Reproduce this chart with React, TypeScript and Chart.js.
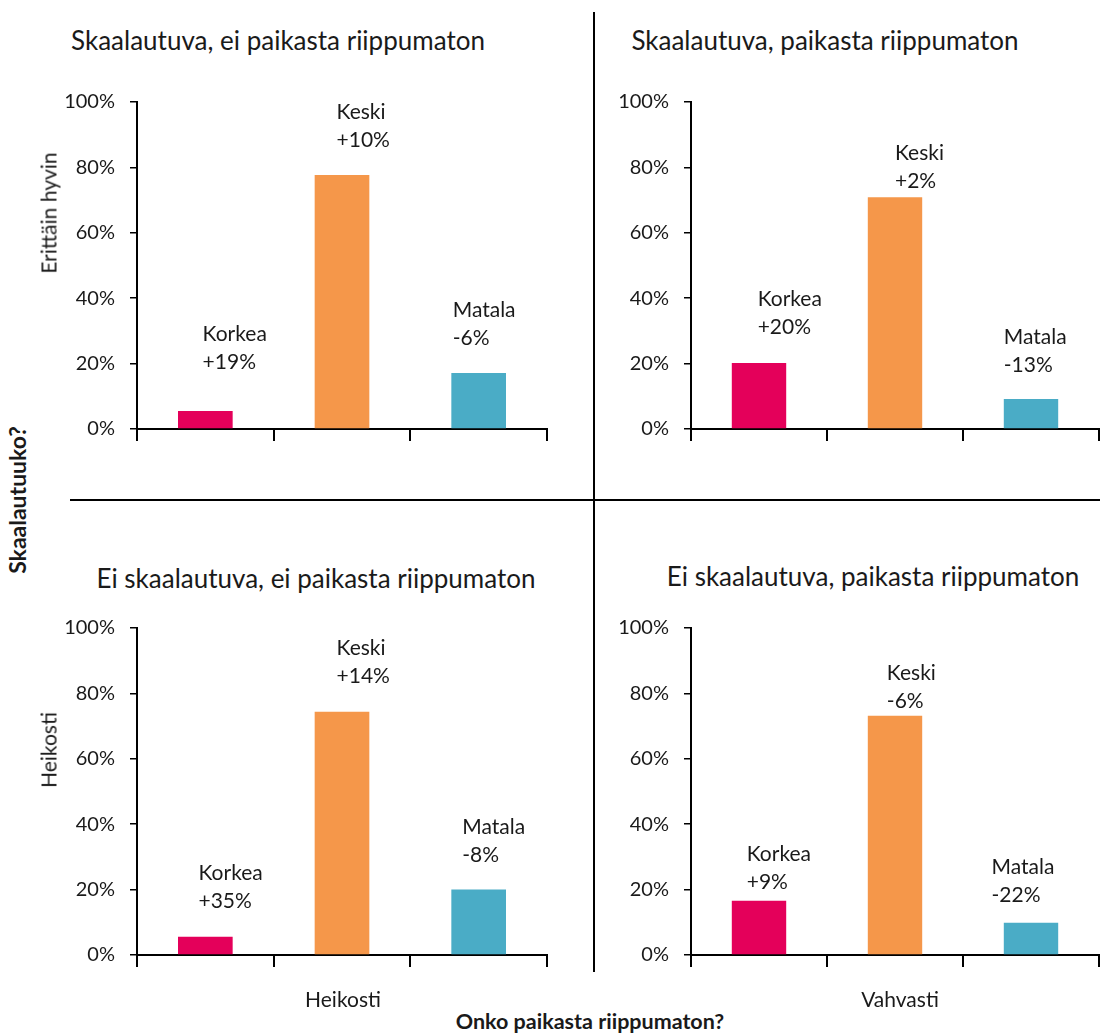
import React, { useEffect, useRef } from 'react';
import { Chart, registerables } from 'chart.js';

Chart.register(...registerables);

// ---------- data ----------
const categories = ['Korkea', 'Keski', 'Matala'];
const barColors = ['#E4005A', '#F5974A', '#4AACC6'];
const yTickValues = [0, 20, 40, 60, 80, 100];

const panelTitles = [
  'Skaalautuva, ei paikasta riippumaton',
  'Skaalautuva, paikasta riippumaton',
  'Ei skaalautuva, ei paikasta riippumaton',
  'Ei skaalautuva, paikasta riippumaton',
];

const topLeftValues = [5.5, 77.7, 17.1];
const topRightValues = [20.2, 70.9, 9.2];
const bottomLeftValues = [5.6, 74.4, 20.0];
const bottomRightValues = [16.6, 73.2, 9.9];

const topLeftChanges = ['+19%', '+10%', '-6%'];
const topRightChanges = ['+20%', '+2%', '-13%'];
const bottomLeftChanges = ['+35%', '+14%', '-8%'];
const bottomRightChanges = ['+9%', '-6%', '-22%'];

const rowTitles = ['Erittäin hyvin', 'Heikosti'];
const colTitles = ['Heikosti', 'Vahvasti'];
const yAxisTitle = 'Skaalautuuko?';
const xAxisTitle = 'Onko paikasta riippumaton?';

// ---------- annotation anchors (layout: category offset, value level of first line) ----------
const topLeftNoteDx = [-0.02, -0.04, -0.19];
const topLeftNoteY = [29.1, 96.9, 36.4];
const topRightNoteDx = [-0.01, 0, -0.2];
const topRightNoteY = [39.8, 84.4, 28.1];
const bottomLeftNoteDx = [-0.05, -0.04, -0.12];
const bottomLeftNoteY = [24.9, 93.9, 39.1];
const bottomRightNoteDx = [-0.09, -0.06, -0.29];
const bottomRightNoteY = [30.7, 86.2, 26.9];

// ---------- layout ----------
const FONT = 'Lato, "Open Sans", sans-serif';
const TEXT = '#1a1a1a';
const Y_AXIS_W = 90;
const PAD_TOP = 32;
const X_AXIS_H = 14;
const PAD_BOTTOM = 18;

type PanelProps = {
  axisX: number;
  rightX: number;
  topY: number;
  bottomY: number;
  values: number[];
  changes: string[];
  noteDx: number[];
  noteY: number[];
};

function Panel({ axisX, rightX, topY, bottomY, values, changes, noteDx, noteY }: PanelProps) {
  const ref = useRef<HTMLCanvasElement>(null);
  const left = axisX - Y_AXIS_W;
  const top = topY - PAD_TOP;
  const width = Math.round(rightX - left + 3);
  const height = Math.round(bottomY - top + X_AXIS_H + PAD_BOTTOM);

  useEffect(() => {
    const notePlugin = {
      id: 'barNotes',
      afterDatasetsDraw(chart: any) {
        const { ctx } = chart;
        const xs = chart.scales.x;
        const ys = chart.scales.y;
        ctx.save();
        ctx.font = `21px ${FONT}`;
        ctx.fillStyle = TEXT;
        ctx.textAlign = 'left';
        ctx.textBaseline = 'middle';
        categories.forEach((cat, i) => {
          const x = xs.getPixelForValue(i + noteDx[i]);
          const y = ys.getPixelForValue(noteY[i]);
          ctx.fillText(cat, x, y);
          ctx.fillText(changes[i], x, y + 28);
        });
        ctx.restore();
      },
    };

    const chart = new Chart(ref.current as HTMLCanvasElement, {
      type: 'bar',
      data: {
        labels: categories,
        datasets: [
          {
            data: values,
            backgroundColor: barColors,
            borderWidth: 0,
            categoryPercentage: 1,
            barPercentage: 0.4,
          },
        ],
      },
      options: {
        animation: false,
        responsive: false,
        maintainAspectRatio: false,
        layout: { padding: { top: PAD_TOP, right: 3, bottom: PAD_BOTTOM, left: 0 } },
        plugins: { legend: { display: false }, tooltip: { enabled: false } },
        scales: {
          x: {
            type: 'category',
            offset: true,
            grid: {
              offset: true,
              drawOnChartArea: false,
              drawTicks: true,
              tickLength: 12,
              color: '#000',
              lineWidth: 2,
            },
            border: { display: true, color: '#000', width: 2 },
            ticks: { display: false },
            afterFit: (s: any) => {
              s.height = X_AXIS_H;
            },
          },
          y: {
            min: 0,
            max: 100,
            afterBuildTicks: (s: any) => {
              s.ticks = yTickValues.map((v) => ({ value: v }));
            },
            ticks: {
              callback: (v: any) => `${v}%`,
              font: { family: FONT, size: 20 },
              color: TEXT,
              padding: 15,
            },
            grid: {
              drawOnChartArea: false,
              drawTicks: true,
              tickLength: 7,
              color: '#000',
              lineWidth: 1.5,
            },
            border: { display: true, color: '#000', width: 2 },
            afterFit: (s: any) => {
              s.width = Y_AXIS_W;
            },
          },
        },
      },
      plugins: [notePlugin],
    } as any);
    return () => chart.destroy();
  }, []);

  return (
    <canvas
      ref={ref}
      width={width}
      height={height}
      style={{ position: 'absolute', left, top, width, height }}
    />
  );
}

function Label({
  text,
  x,
  y,
  size,
  bold,
  rotate,
}: {
  text: string;
  x: number;
  y: number;
  size: number;
  bold?: boolean;
  rotate?: boolean;
}) {
  return (
    <div
      style={{
        position: 'absolute',
        left: x,
        top: y,
        transform: `translate(-50%, -50%)${rotate ? ' rotate(-90deg)' : ''}`,
        whiteSpace: 'nowrap',
        fontFamily: FONT,
        fontSize: size,
        fontWeight: bold ? 700 : 400,
        lineHeight: 1,
        color: TEXT,
      }}
    >
      {text}
    </div>
  );
}

export default function App() {
  return (
    <div
      style={{
        position: 'absolute',
        left: 0,
        top: 0,
        width: 1100,
        height: 1034,
        background: '#fff',
        overflow: 'hidden',
      }}
    >
      {/* dividers */}
      <div style={{ position: 'absolute', left: 593, top: 12, width: 2, height: 960, background: '#000' }} />
      <div style={{ position: 'absolute', left: 70, top: 499, width: 1030, height: 2, background: '#000' }} />

      <Panel
        axisX={137}
        rightX={547}
        topY={101.7}
        bottomY={429}
        values={topLeftValues}
        changes={topLeftChanges}
        noteDx={topLeftNoteDx}
        noteY={topLeftNoteY}
      />
      <Panel
        axisX={690.7}
        rightX={1099}
        topY={101.7}
        bottomY={429}
        values={topRightValues}
        changes={topRightChanges}
        noteDx={topRightNoteDx}
        noteY={topRightNoteY}
      />
      <Panel
        axisX={137}
        rightX={547}
        topY={628.3}
        bottomY={955.3}
        values={bottomLeftValues}
        changes={bottomLeftChanges}
        noteDx={bottomLeftNoteDx}
        noteY={bottomLeftNoteY}
      />
      <Panel
        axisX={690.7}
        rightX={1099}
        topY={628.3}
        bottomY={955.3}
        values={bottomRightValues}
        changes={bottomRightChanges}
        noteDx={bottomRightNoteDx}
        noteY={bottomRightNoteY}
      />

      <Label text={panelTitles[0]} x={278} y={40} size={26} />
      <Label text={panelTitles[1]} x={825} y={40} size={26} />
      <Label text={panelTitles[2]} x={316} y={578} size={26} />
      <Label text={panelTitles[3]} x={873} y={576} size={26} />

      <Label text={rowTitles[0]} x={48} y={213} size={21} rotate />
      <Label text={rowTitles[1]} x={48} y={750} size={21} rotate />
      <Label text={yAxisTitle} x={17} y={500} size={23} bold rotate />

      <Label text={colTitles[0]} x={343} y={998} size={21} />
      <Label text={colTitles[1]} x={900} y={998} size={21} />
      <Label text={xAxisTitle} x={590} y={1022} size={21.5} bold />
    </div>
  );
}
